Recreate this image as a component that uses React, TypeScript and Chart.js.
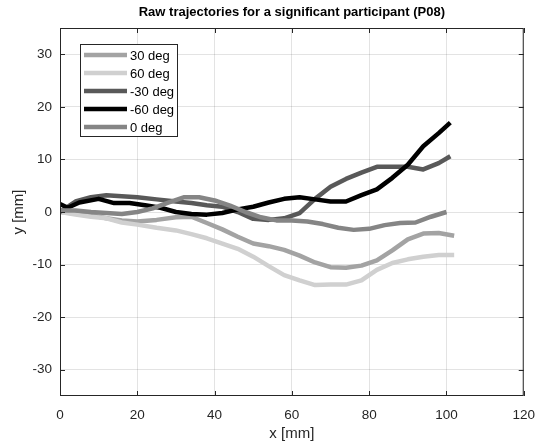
import React, { useEffect, useRef } from "react";
import { Chart, registerables } from "chart.js";
Chart.register(...registerables);

const seriesLabels = ["30 deg", "60 deg", "-30 deg", "-60 deg", "0 deg"];
const seriesColors = ["#a3a3a3", "#d0d0d0", "#595959", "#000000", "#858585"];

const x30 = [0, 4, 8, 12, 16, 20, 25, 30, 34, 38, 42, 46, 50, 54, 58, 62, 66, 70, 74, 78, 82, 86, 90, 94, 98, 102];
const y30 = [0, -0.3, -0.6, -1.2, -1.6, -1.8, -1.5, -1, -0.9, -2.1, -3.3, -4.7, -6, -6.5, -7.2, -8.3, -9.6, -10.5, -10.6, -10.2, -9.2, -7.3, -5.2, -4.1, -4, -4.5];

const x60 = [0, 4, 8, 12, 16, 20, 25, 30, 34, 38, 42, 46, 50, 54, 58, 62, 66, 70, 74, 78, 82, 86, 90, 94, 98, 102];
const y60 = [0, -0.5, -0.9, -1.2, -2, -2.4, -3, -3.5, -4.2, -5, -6, -7, -8.5, -10.3, -12, -13, -13.9, -13.8, -13.8, -13, -11, -9.7, -9, -8.5, -8.2, -8.2];

const xM30 = [0, 4, 8, 12, 16, 20, 25, 30, 34, 38, 42, 46, 50, 54, 58, 62, 66, 70, 74, 78, 82, 86, 90, 94, 98, 101];
const yM30 = [0, 2, 2.8, 3.2, 3, 2.8, 2.4, 2, 1.7, 1.3, 1, 0, -1.3, -1.5, -1.2, -0.2, 2.5, 4.8, 6.3, 7.5, 8.6, 8.6, 8.6, 8.1, 9.3, 10.6];

const xM60 = [0, 2, 5, 10, 14, 18, 22, 26, 30, 34, 38, 42, 46, 50, 54, 58, 62, 66, 70, 74, 78, 82, 86, 90, 94, 98, 101];
const yM60 = [1.5, 0.8, 1.8, 2.5, 1.7, 1.7, 1.3, 0.8, 0, -0.4, -0.5, -0.2, 0.5, 1, 1.8, 2.5, 2.8, 2.4, 2, 2, 3.2, 4.3, 6.5, 9, 12.5, 15, 17];

const x0 = [0, 4, 8, 12, 16, 20, 24, 28, 32, 36, 40, 44, 48, 52, 56, 60, 64, 68, 72, 76, 80, 84, 88, 92, 96, 100];
const y0 = [0.3, 0.3, 0, -0.2, -0.4, 0, 0.7, 1.8, 2.8, 2.8, 2.2, 1.2, 0, -1, -1.6, -1.6, -1.8, -2.3, -3, -3.4, -3.2, -2.5, -2.1, -2, -0.9, 0];

const seriesX = [x30, x60, xM30, xM60, x0];
const seriesY = [y30, y60, yM30, yM60, y0];

const xTicks = [0, 20, 40, 60, 80, 100, 120];
const yTicks = [-30, -20, -10, 0, 10, 20, 30];

const titleText = "Raw trajectories for a significant participant (P08)";
const xLabel = "x [mm]";
const yLabel = "y [mm]";

const FONT = "'Liberation Sans', Arial, Helvetica, sans-serif";
const AX = "#262626";

const decoPlugin = {
  id: "deco",
  afterDatasetsDraw(chart: any) {
    const { ctx, chartArea, scales } = chart;
    const { left, right, top, bottom } = chartArea;
    const xs = scales.x;
    const ys = scales.y;
    ctx.save();
    // box
    ctx.strokeStyle = AX;
    ctx.lineWidth = 1;
    ctx.strokeRect(left + 0.5, top + 0.5, right - left - 1, bottom - top - 1);
    // inner ticks
    ctx.beginPath();
    xTicks.forEach((v) => {
      const px = Math.round(xs.getPixelForValue(v)) + 0.5;
      ctx.moveTo(px, bottom);
      ctx.lineTo(px, bottom - 5);
      ctx.moveTo(px, top);
      ctx.lineTo(px, top + 5);
    });
    yTicks.forEach((v) => {
      const py = Math.round(ys.getPixelForValue(v)) + 0.5;
      ctx.moveTo(left, py);
      ctx.lineTo(left + 5, py);
      ctx.moveTo(right, py);
      ctx.lineTo(right - 5, py);
    });
    ctx.stroke();

    // title
    ctx.fillStyle = "#000";
    ctx.font = `bold 13px ${FONT}`;
    ctx.textAlign = "center";
    ctx.textBaseline = "middle";
    ctx.fillText(titleText, (left + right) / 2, 12);

    // axis labels
    ctx.fillStyle = AX;
    ctx.font = `15px ${FONT}`;
    ctx.fillText(xLabel, (left + right) / 2, 434);
    ctx.save();
    ctx.translate(19, (top + bottom) / 2);
    ctx.rotate(-Math.PI / 2);
    ctx.fillText(yLabel, 0, 0);
    ctx.restore();

    // legend
    const lx = 80, ly = 44, lw = 98, lh = 93;
    ctx.fillStyle = "#fff";
    ctx.fillRect(lx, ly, lw, lh);
    ctx.strokeStyle = AX;
    ctx.lineWidth = 1;
    ctx.strokeRect(lx + 0.5, ly + 0.5, lw - 1, lh - 1);
    chart.data.datasets.forEach((ds: any, i: number) => {
      const yy = 55 + i * 18;
      ctx.strokeStyle = ds.borderColor;
      ctx.lineWidth = 4.5;
      ctx.beginPath();
      ctx.moveTo(84, yy);
      ctx.lineTo(127, yy);
      ctx.stroke();
      ctx.fillStyle = "#000";
      ctx.font = `13px ${FONT}`;
      ctx.textAlign = "left";
      ctx.textBaseline = "middle";
      ctx.fillText(ds.label, 130, yy + 1);
    });
    ctx.restore();
  },
};

export default function App() {
  const ref = useRef<HTMLCanvasElement | null>(null);
  useEffect(() => {
    document.body.style.margin = "0";
    const datasets = seriesLabels.map((label, i) => ({
      label,
      data: seriesX[i].map((xv, j) => ({ x: xv, y: seriesY[i][j] })),
      borderColor: seriesColors[i],
      backgroundColor: seriesColors[i],
      borderWidth: 4.5,
      pointRadius: 0,
      tension: 0,
      fill: false,
      borderJoinStyle: "round" as const,
      order: seriesLabels.length - i,
    }));
    const chart = new Chart(ref.current as HTMLCanvasElement, {
      type: "line",
      data: { datasets },
      options: {
        animation: false,
        responsive: false,
        devicePixelRatio: 1,
        layout: { padding: { left: 0, top: 28, right: 18, bottom: 0 } },
        plugins: { legend: { display: false }, title: { display: false }, tooltip: { enabled: false } },
        scales: {
          x: {
            type: "linear",
            min: 0,
            max: 120,
            afterFit: (s: any) => { s.height = 47; },
            afterBuildTicks: (s: any) => { s.ticks = xTicks.map((v) => ({ value: v })); },
            grid: { color: "rgba(38,38,38,0.13)", drawTicks: false },
            border: { display: false },
            ticks: { color: AX, font: { family: FONT, size: 13.5 }, padding: 11, maxRotation: 0, autoSkip: false },
          },
          y: {
            type: "linear",
            min: -35,
            max: 35,
            afterFit: (s: any) => { s.width = 60; },
            afterBuildTicks: (s: any) => { s.ticks = yTicks.map((v) => ({ value: v })); },
            grid: { color: "rgba(38,38,38,0.13)", drawTicks: false },
            border: { display: false },
            ticks: { color: AX, font: { family: FONT, size: 13.5 }, padding: 8, autoSkip: false },
          },
        },
      },
      plugins: [decoPlugin],
    });
    return () => chart.destroy();
  }, []);
  return (
    <div style={{ width: 546, height: 443 }}>
      <canvas ref={ref} width={546} height={443} style={{ display: "block" }} />
    </div>
  );
}
